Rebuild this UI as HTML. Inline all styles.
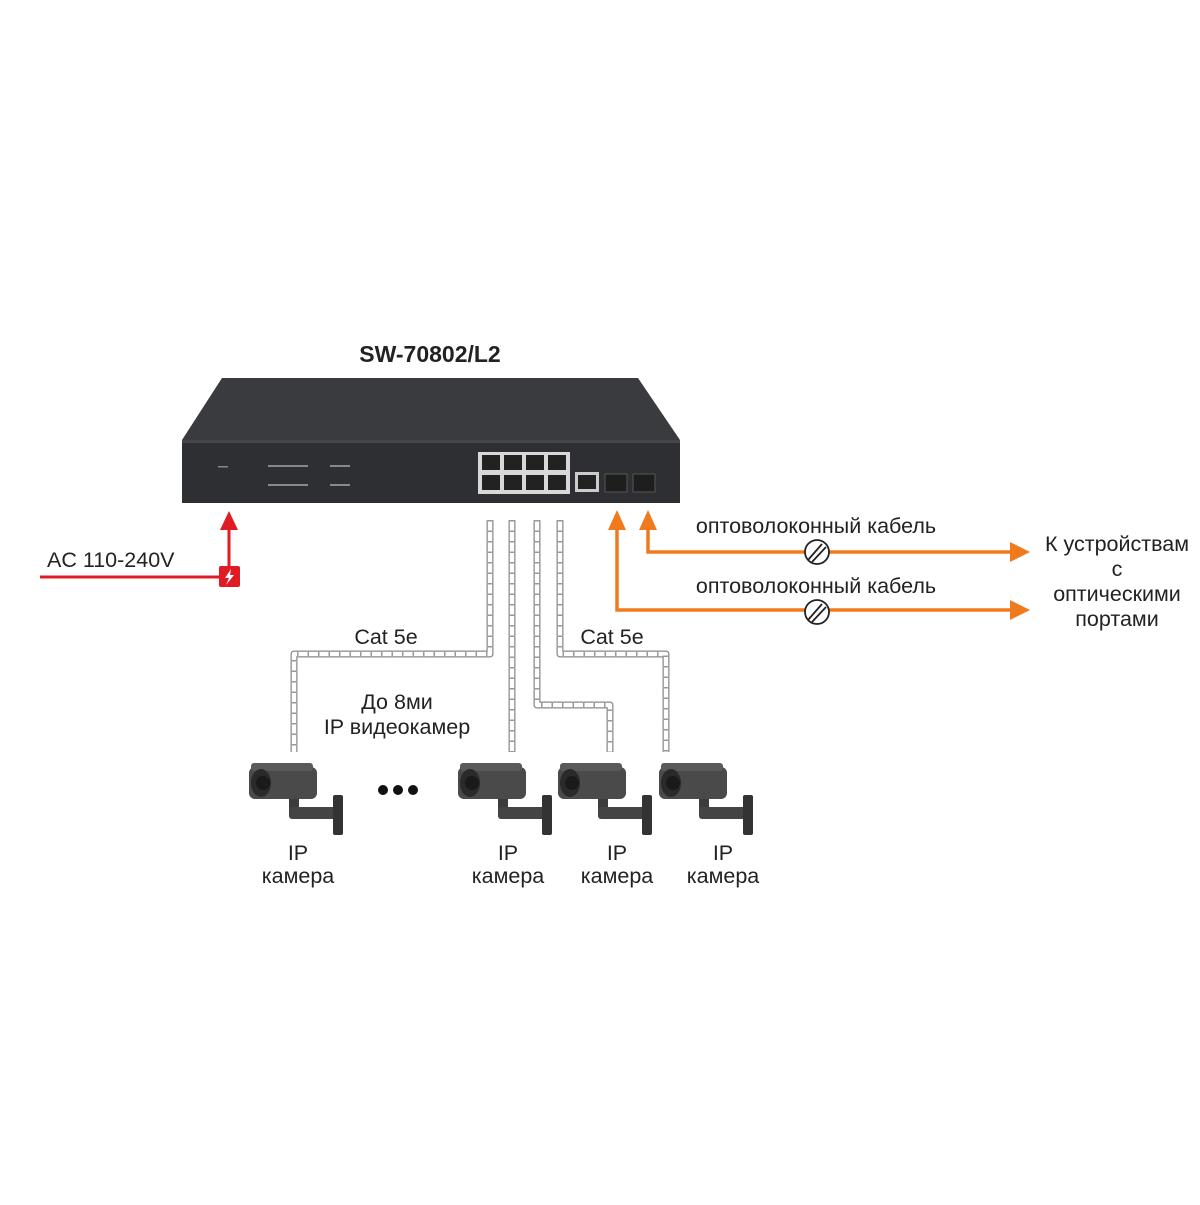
<!DOCTYPE html>
<html><head><meta charset="utf-8"><style>
html,body{margin:0;padding:0;background:#fff}
svg text{font-family:"Liberation Sans","DejaVu Sans",sans-serif;fill:#222}
</style></head><body>
<svg width="1200" height="1200" viewBox="0 0 1200 1200" xmlns="http://www.w3.org/2000/svg">
<defs>
<g id="cam">
  <rect x="0" y="4" width="68" height="32" rx="6" fill="#4a4a4a"/>
  <rect x="2" y="0" width="62" height="8" rx="3" fill="#5a5a5a"/>
  <ellipse cx="12" cy="20" rx="10" ry="14" fill="#2a2a2a"/>
  <circle cx="14" cy="20" r="7" fill="#1a1a1a"/>
  <rect x="40" y="36" width="10" height="14" fill="#3c3c3c"/>
  <rect x="40" y="44" width="48" height="12" rx="3" fill="#444"/>
  <rect x="84" y="32" width="10" height="40" rx="2" fill="#333"/>
</g>
</defs>
<text x="430" y="362" font-size="23" font-weight="bold" text-anchor="middle">SW-70802/L2</text>
<!-- switch -->
<polygon points="222,378 638,378 680,440 182,440" fill="#3a3b3e"/>
<rect x="182" y="440" width="498" height="63" fill="#2e2f32"/>
<rect x="182" y="440" width="498" height="3" fill="#45464a"/>
<rect x="478" y="452" width="92" height="42" fill="#d8d8d8"/>
<g fill="#222">
  <rect x="482" y="455" width="18" height="15"/><rect x="504" y="455" width="18" height="15"/><rect x="526" y="455" width="18" height="15"/><rect x="548" y="455" width="18" height="15"/>
  <rect x="482" y="475" width="18" height="15"/><rect x="504" y="475" width="18" height="15"/><rect x="526" y="475" width="18" height="15"/><rect x="548" y="475" width="18" height="15"/>
</g>
<rect x="575" y="472" width="24" height="20" fill="#ccc"/><rect x="578" y="475" width="18" height="14" fill="#222"/>
<rect x="605" y="474" width="22" height="18" fill="#1e1e1e" stroke="#555"/><rect x="633" y="474" width="22" height="18" fill="#1e1e1e" stroke="#555"/>
<g fill="#888"><rect x="218" y="466" width="10" height="1.5"/><rect x="268" y="465" width="40" height="2"/><rect x="268" y="484" width="40" height="2"/><rect x="330" y="465" width="20" height="2"/><rect x="330" y="484" width="20" height="2"/></g>
<!-- twisted cables -->
<g fill="none" stroke-linejoin="round">
  <g stroke="#888" stroke-width="7">
    <path d="M490,520 V654 H294 V752"/><path d="M512,520 V752"/><path d="M537,520 V705 H610 V752"/><path d="M560,520 V654 H666 V752"/>
  </g>
  <g stroke="#fff" stroke-width="4.5">
    <path d="M490,520 V654 H294 V752"/><path d="M512,520 V752"/><path d="M537,520 V705 H610 V752"/><path d="M560,520 V654 H666 V752"/>
  </g>
  <g stroke="#999" stroke-width="7" stroke-dasharray="1.5 9">
    <path d="M490,520 V654 H294 V752"/><path d="M512,520 V752"/><path d="M537,520 V705 H610 V752"/><path d="M560,520 V654 H666 V752"/>
  </g>
</g>
<g font-size="21.5" text-anchor="middle">
<text x="386" y="644">Cat 5e</text>
<text x="612" y="644">Cat 5e</text>
<text x="397" y="709">До 8ми</text>
<text x="397" y="734">IP видеокамер</text>
</g>
<!-- power -->
<line x1="40" y1="577" x2="222" y2="577" stroke="#e01b24" stroke-width="3"/>
<line x1="229" y1="568" x2="229" y2="528" stroke="#e01b24" stroke-width="3"/>
<polygon points="220,530 238,530 229,511" fill="#e01b24"/>
<rect x="219" y="566" width="21" height="21" rx="2" fill="#e01b24"/>
<polygon points="231,569 225,578 229,578 226,585 234,575 230,575" fill="#fff"/>
<text x="47" y="567" font-size="21.5">AC 110-240V</text>
<!-- fibre -->
<g stroke="#f07a1e" stroke-width="3.5" fill="none">
  <path d="M648,528 V552 H1012"/><path d="M617,528 V610 H1012"/>
</g>
<g fill="#f07a1e">
  <polygon points="639,530 657,530 648,510"/><polygon points="608,530 626,530 617,510"/>
  <polygon points="1010,542 1030,552 1010,562"/><polygon points="1010,600 1030,610 1010,620"/>
</g>
<g stroke="#222" stroke-width="1.8" fill="#fff">
  <circle cx="817" cy="552" r="12"/><circle cx="817" cy="612" r="12"/>
</g>
<g stroke="#222" stroke-width="1.8">
  <line x1="808" y1="560" x2="822" y2="544"/><line x1="812" y1="562" x2="826" y2="547"/>
  <line x1="808" y1="620" x2="822" y2="604"/><line x1="812" y1="622" x2="826" y2="607"/>
</g>
<g font-size="21.5" text-anchor="middle">
<text x="816" y="533">оптоволоконный кабель</text>
<text x="816" y="593">оптоволоконный кабель</text>
  <text x="1117" y="551">К устройствам</text><text x="1117" y="576">с</text><text x="1117" y="601">оптическими</text><text x="1117" y="626">портами</text>
</g>
<!-- cameras -->
<use href="#cam" x="249" y="763"/><use href="#cam" x="458" y="763"/><use href="#cam" x="558" y="763"/><use href="#cam" x="659" y="763"/>
<g fill="#111"><circle cx="383" cy="790" r="5"/><circle cx="398" cy="790" r="5"/><circle cx="413" cy="790" r="5"/></g>
<g font-size="21.5" text-anchor="middle">
  <text x="298" y="860">IP</text><text x="298" y="883">камера</text>
  <text x="508" y="860">IP</text><text x="508" y="883">камера</text>
  <text x="617" y="860">IP</text><text x="617" y="883">камера</text>
  <text x="723" y="860">IP</text><text x="723" y="883">камера</text>
</g>
</svg>
</body></html>
